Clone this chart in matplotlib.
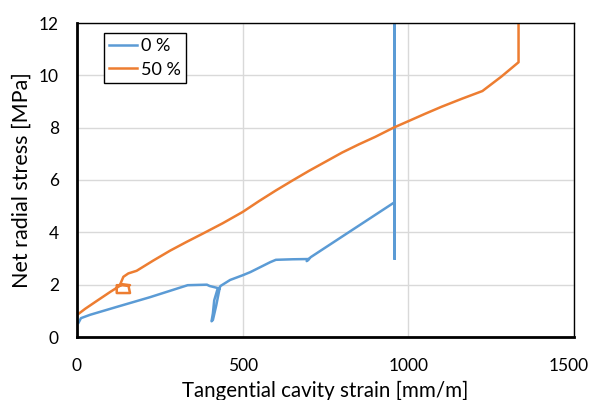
import numpy as np
import matplotlib.pyplot as plt
import matplotlib.transforms as mtransforms

plt.rcParams['font.family'] = ['Lato', 'DejaVu Sans']

# 0 % curve
strain_0 = [5, 12, 40, 120, 220, 334, 392, 400, 425, 414, 410, 406, 410, 420, 431, 425, 433,
            462, 500, 523, 583, 600, 650, 700, 693, 705, 958, 958, 958, 958]
stress_0 = [0.55, 0.72, 0.85, 1.15, 1.52, 1.98, 2.0, 1.95, 1.87, 1.4, 0.9, 0.6, 0.65, 1.2, 1.9, 1.75, 1.95,
            2.18, 2.36, 2.48, 2.86, 2.95, 2.97, 2.98, 2.9, 3.05, 5.15, 3.0, 12.5, 3.0]

# 50 % curve
strain_50 = [0, 25, 60, 100, 135, 160, 120, 120, 160, 155, 130, 140, 155, 180, 230, 281, 330, 381, 440, 500,
             550, 600, 650, 700, 750, 800, 850, 900, 955, 1000, 1050, 1100, 1160, 1223, 1280, 1332, 1332]
stress_50 = [0.84, 1.08, 1.38, 1.72, 2.0, 1.98, 1.98, 1.68, 1.68, 1.98, 2.0, 2.3, 2.43, 2.53, 2.92, 3.3, 3.63, 3.96, 4.35, 4.78,
             5.2, 5.6, 5.98, 6.35, 6.7, 7.05, 7.36, 7.65, 8.0, 8.25, 8.53, 8.8, 9.1, 9.4, 9.95, 10.5, 12.5]

x_ticks = [0, 500, 1000, 1500]
y_ticks = [0, 2, 4, 6, 8, 10, 12]

fig = plt.figure(figsize=(5.92, 4.0), dpi=100)
ax = fig.add_axes([0.130, 0.1575, 0.840, 0.785])

ax.plot(strain_0, stress_0, color='#5B9BD5', lw=1.8, label='0 %')
ax.plot(strain_50, stress_50, color='#ED7D31', lw=1.8, label='50 %')

ax.set_xlim(0, 1500)
ax.set_ylim(0, 12)
ax.set_xticks(x_ticks)
ax.set_yticks(y_ticks)
ax.grid(True, color='#d9d9d9', lw=1)
ax.set_axisbelow(True)
ax.tick_params(axis='x', length=0, labelsize=12.5, pad=15)
ax.tick_params(axis='y', length=0, labelsize=12.5, pad=13)

# keep the last x label inside the canvas
last = ax.get_xticklabels()[-1]
last.set_transform(last.get_transform() + mtransforms.ScaledTranslation(-4 / 72, 0, fig.dpi_scale_trans))

for s in ['left', 'bottom']:
    ax.spines[s].set_linewidth(2)
for s in ['top', 'right']:
    ax.spines[s].set_linewidth(1)

ax.set_xlabel('Tangential cavity strain [mm/m]', fontsize=14.8, labelpad=5)
ax.set_ylabel('Net radial stress [MPa]', fontsize=15.5, labelpad=5)

leg = ax.legend(loc='upper left', bbox_to_anchor=(0.054, 0.968), borderaxespad=0,
                fontsize=13, fancybox=False, edgecolor='black', framealpha=1,
                handlelength=1.55, handletextpad=0.2, borderpad=0.3, labelspacing=0.4)
leg.get_frame().set_linewidth(1)

fig.savefig('out.png', dpi=100)
